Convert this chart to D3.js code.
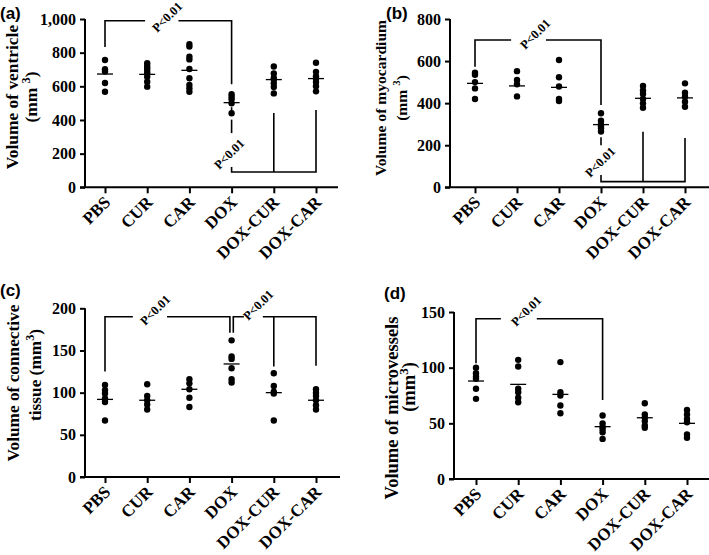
<!DOCTYPE html>
<html><head><meta charset="utf-8">
<script src="https://cdn.jsdelivr.net/npm/d3@7"></script>
<style>
body{margin:0;background:#fff;}
svg{display:block;}
text{font-family:"Liberation Serif","Times New Roman",serif;font-weight:bold;fill:#000;}
.lab{font-family:"Liberation Sans",Arial,sans-serif;font-weight:bold;}
</style></head>
<body>
<svg id="c" width="709" height="555"></svg>
<script>
// ---------- data ----------
const categories = ["PBS","CUR","CAR","DOX","DOX-CUR","DOX-CAR"];

const ventricleDots = [
  [756,701,688,620,568],
  [737,721,707,691,677,657,627,598],
  [851,836,776,760,703,648,608,588,568],
  [553,538,523,499,440],
  [718,676,650,640,618,596,558],
  [740,686,660,645,625,600,570]
];
const ventricleMeans = [673,671,695,503,640,646];
const ventricleTicks = [0,200,400,600,800,1000];

const myocardiumDots = [
  [545,535,500,470,420],
  [552,510,490,432],
  [605,523,479,420,410],
  [352,316,300,290,280,265],
  [482,460,444,420,399,378],
  [494,450,431,407,383]
];
const myocardiumMeans = [494,482,475,298,423,425];
const myocardiumTicks = [0,200,400,600,800];

const connectiveDots = [
  [109,103,99,93,89,67],
  [110,96,91,86,80],
  [116,111,104,94,83],
  [162,143,140,129,116,112],
  [123,108,101,99,67],
  [104,100,96,91,85,80]
];
const connectiveMeans = [92,91,104,134,100,91];
const connectiveTicks = [0,50,100,150,200];

const microDots = [
  [100,95,92,90,81,72],
  [107,101,81,78,73,69],
  [105,78,75,66,59],
  [57,50,47,45,42,36],
  [68,58,55,52,48,46],
  [62,58,54,51,40,37]
];
const microMeans = [88,85,76,47,55,50];
const microTicks = [0,50,100,150];

// ---------- layout ----------
const panels = [
  {letter:"(a)", dots:ventricleDots, means:ventricleMeans, ticks:ventricleTicks, max:1000, fmt:d3.format(","),
   title:["Volume of ventricle",["(mm ","3",")"]], tfs:17.4,
   px:{x0:85, x1:338, y0:187.3, y1:19, c0:105, c5:316, lx:0, ly:19, t1:18, t2:37, tc1:97, tc2:97},
   brackets:[
     {type:"up", from:0, to:3, y:990, b0:834, b1:612, gap:[0.95,1.74], p:[167,17]},
     {type:"down", from:3, mid:4, to:5, y:91, b0:121, bm:441, b1:459, dash:[[476,432],[402,322]], p:[229,154]}
   ]},
  {letter:"(b)", dots:myocardiumDots, means:myocardiumMeans, ticks:myocardiumTicks, max:800, fmt:d3.format(","),
   title:["Volume of myocardium",["(mm ","3",")"]], tfs:15.6,
   px:{x0:450, x1:709, y0:187.3, y1:19, c0:475, c5:685, lx:386, ly:19, t1:386, t2:407, tc1:98, tc2:98},
   brackets:[
     {type:"up", from:0, to:3, y:700, b0:573, b1:391, gap:[0.86,1.69], p:[535,34]},
     {type:"down", from:3, mid:4, to:5, y:27, b0:58, bm:264, b1:234, dash:[[238,200]], p:[600,162]}
   ]},
  {letter:"(c)", dots:connectiveDots, means:connectiveMeans, ticks:connectiveTicks, max:200, fmt:d3.format(","),
   title:["Volume of connective",["tissue (mm","3",")"]], tfs:17.3,
   px:{x0:85, x1:340, y0:477, y1:308.3, c0:105, c5:316, lx:0, ly:296, t1:19, t2:41, tc1:383, tc2:375},
   brackets:[
     {type:"double", y:190, pbsLow:125, dblLow:171, curLow:131, carLow:132, gapL:[0.66,1.47], gapR:[3.29,3.74], p1:[155,310], p2:[258,305]}
   ]},
  {letter:"(d)", dots:microDots, means:microMeans, ticks:microTicks, max:150, fmt:d3.format(","),
   title:["Volume of microvessels",["(mm","3",")"]], tfs:18.5,
   px:{x0:454, x1:709, y0:479, y1:312, c0:476, c5:687, lx:384, ly:299, t1:398, t2:415, tc1:408, tc2:387},
   brackets:[
     {type:"up", from:0, to:3, y:144, b0:104, b1:71, gap:[0.59,1.44], p:[526,311]}
   ]}
];

const svg = d3.select("#c");

panels.forEach((P,pi) => {
  const L = P.px;
  const g = svg.append("g");
  const x = d3.scaleLinear().domain([0, categories.length-1]).range([L.c0, L.c5]);
  const y = d3.scaleLinear().domain([0, P.max]).range([L.y0, L.y1]);

  g.append("text").attr("class","lab").attr("x",L.lx).attr("y",L.ly)
    .style("font-size","17px").text(P.letter);

  const ya = g.append("g").attr("transform",`translate(${L.x0},0)`)
    .call(d3.axisLeft(y).tickValues(P.ticks).tickFormat(P.fmt).tickSize(5).tickPadding(4));
  ya.select(".domain").attr("stroke-width",2).attr("d",`M0,${y(0)}V${y(P.max)}`);
  ya.selectAll(".tick line").attr("stroke-width",2);
  ya.selectAll(".tick text").style("font-size","16px").style("font-family","Liberation Serif").style("font-weight","bold");

  const xa = g.append("g").attr("transform",`translate(0,${L.y0})`)
    .call(d3.axisBottom(x).tickValues(d3.range(categories.length)).tickFormat(i=>categories[i]).tickSize(6).tickPadding(4));
  xa.select(".domain").attr("stroke-width",2).attr("d",`M${L.x0-5},0H${L.x1}`);
  xa.selectAll(".tick line").attr("stroke-width",2);
  xa.selectAll(".tick text")
    .style("font-size","17px").style("font-family","Liberation Serif").style("font-weight","bold")
    .attr("text-anchor","end").attr("dy",null).attr("y",null)
    .attr("transform","translate(6,16) rotate(-45)");

  g.append("text").attr("transform",`translate(${L.t1},${L.tc1}) rotate(-90)`)
    .attr("text-anchor","middle").style("font-size",P.tfs+"px").text(P.title[0]);
  const t2 = g.append("text").attr("transform",`translate(${L.t2},${L.tc2}) rotate(-90)`)
    .attr("text-anchor","middle").style("font-size",P.tfs+"px");
  t2.append("tspan").text(P.title[1][0]);
  t2.append("tspan").attr("dy",-7).style("font-size",(P.tfs*0.7)+"px").text(P.title[1][1]);
  t2.append("tspan").attr("dy",7).text(P.title[1][2]);

  P.dots.forEach((arr,i) => {
    g.selectAll(null).data(arr).enter().append("circle")
      .attr("cx", x(i)).attr("cy", d=>y(d)).attr("r",3.2).attr("fill","#000");
  });
  g.selectAll(null).data(P.means).enter().append("line")
    .attr("x1",(d,i)=>x(i)-8).attr("x2",(d,i)=>x(i)+8)
    .attr("y1",d=>y(d)).attr("y2",d=>y(d)).attr("stroke","#000").attr("stroke-width",1.3);

  const line = (pts) => g.append("path").attr("d", d3.line()(pts))
    .attr("fill","none").attr("stroke","#000").attr("stroke-width",1.6);
  const ptext = (pos) => g.append("text").attr("transform",`translate(${pos[0]},${pos[1]}) rotate(-45)`)
    .attr("text-anchor","middle").attr("dy","0.35em").style("font-size","12.5px").text("P<0.01");

  P.brackets.forEach(B => {
    if (B.type==="up") {
      line([[x(B.from),y(B.b0)],[x(B.from),y(B.y)],[x(B.gap[0]),y(B.y)]]);
      line([[x(B.gap[1]),y(B.y)],[x(B.to),y(B.y)],[x(B.to),y(B.b1)]]);
      ptext(B.p);
    } else if (B.type==="down") {
      line([[x(B.from),y(B.b0)],[x(B.from),y(B.y)],[x(B.to),y(B.y)],[x(B.to),y(B.b1)]]);
      line([[x(B.mid),y(B.y)],[x(B.mid),y(B.bm)]]);
      B.dash.forEach(dd => line([[x(B.from),y(dd[0])],[x(B.from),y(dd[1])]]));
      ptext(B.p);
    } else if (B.type==="double") {
      const off = 1.7;
      line([[x(0),y(B.pbsLow)],[x(0),y(B.y)],[x(B.gapL[0]),y(B.y)]]);
      line([[x(B.gapL[1]),y(B.y)],[x(3)-off,y(B.y)],[x(3)-off,y(B.dblLow)]]);
      line([[x(3)+off,y(B.dblLow)],[x(3)+off,y(B.y)],[x(B.gapR[0]),y(B.y)]]);
      line([[x(B.gapR[1]),y(B.y)],[x(5),y(B.y)],[x(5),y(B.carLow)]]);
      line([[x(4),y(B.y)],[x(4),y(B.curLow)]]);
      ptext(B.p1); ptext(B.p2);
    }
  });
});
</script>
</body></html>
